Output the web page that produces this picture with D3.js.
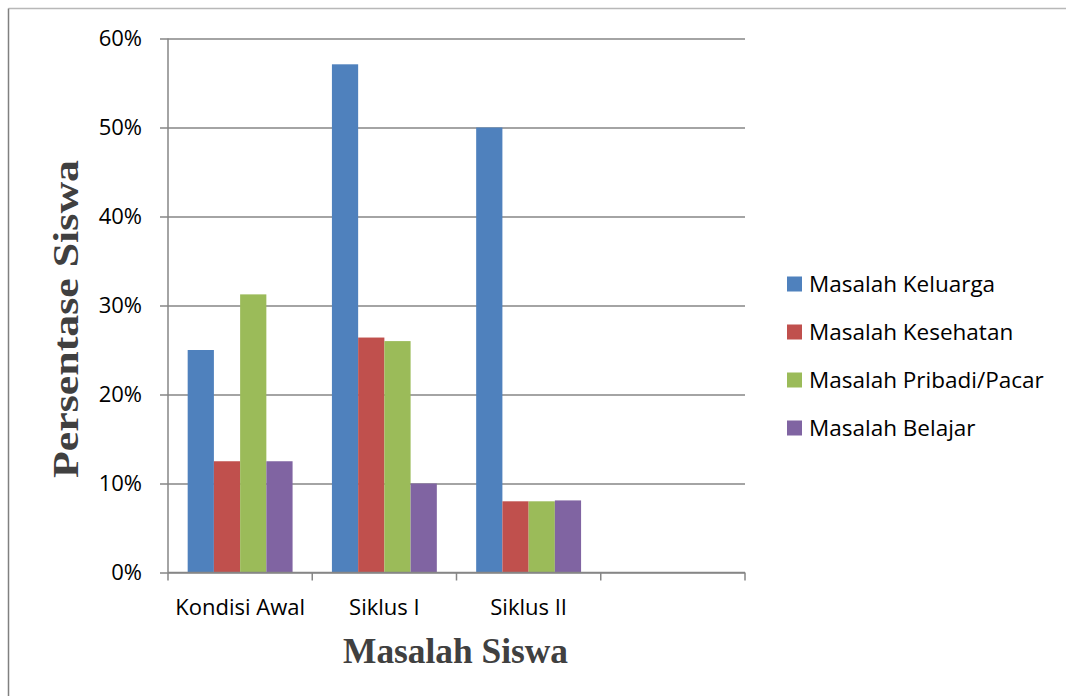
<!DOCTYPE html>
<html>
<head>
<meta charset="utf-8">
<script src="https://cdn.jsdelivr.net/npm/d3@7"></script>
<style>
  html, body { margin: 0; padding: 0; background: #fff; }
  svg { display: block; }
</style>
</head>
<body>
<svg id="chart" width="1066" height="696"></svg>
<script>
const categories = ["Kondisi Awal", "Siklus I", "Siklus II", ""];
const seriesNames = ["Masalah Keluarga", "Masalah Kesehatan", "Masalah Pribadi/Pacar", "Masalah Belajar"];
const keluarga  = [0.25, 0.571, 0.50, null];
const kesehatan = [0.125, 0.264, 0.08, null];
const pribadi   = [0.3125, 0.26, 0.08, null];
const belajar   = [0.125, 0.10, 0.081, null];
const yTicks = [0, 0.1, 0.2, 0.3, 0.4, 0.5, 0.6];
const colors = ["#4F81BD", "#C0504D", "#9BBB59", "#8064A2"];

(function () {
const seriesValues = [keluarga, kesehatan, pribadi, belajar];
const rows = categories.map((c, i) => {
  const r = { category: c };
  seriesNames.forEach((s, j) => { r[s] = seriesValues[j][i]; });
  return r;
});

const svg = d3.select("#chart");
const pLeft = 168, pRight = 745, pTop = 38.5, pBottom = 572.5;
const axisColor = "#868686";
const labelFont = "'Open Sans', 'Noto Sans', sans-serif";
const serif = "'Liberation Serif', 'Times New Roman', serif";

// Frame
svg.append("line").attr("x1", 8.5).attr("x2", 1066).attr("y1", 8.5).attr("y2", 8.5)
  .attr("stroke", "#b8b8b8").attr("stroke-width", 1.5);
svg.append("line").attr("x1", 8.5).attr("x2", 8.5).attr("y1", 8.5).attr("y2", 696)
  .attr("stroke", "#808080").attr("stroke-width", 1.5);

const x0 = d3.scaleBand().domain(categories).range([pLeft, pRight]).paddingInner(0).paddingOuter(0);
const x1 = d3.scaleBand().domain(seriesNames).range([0, x0.bandwidth()]).paddingInner(0).paddingOuter(0.75);
const y = d3.scaleLinear().domain([0, 0.6]).range([pBottom, pTop]);

// Gridlines
const grid = svg.append("g").attr("transform", `translate(${pRight},0)`)
  .call(d3.axisLeft(y).tickValues(yTicks).tickSizeInner(pRight - pLeft + 8).tickSizeOuter(0).tickFormat(""));
grid.select(".domain").remove();
grid.selectAll(".tick line").attr("stroke", axisColor).attr("stroke-width", 1.3);

// Y axis labels
const yAxis = svg.append("g").attr("transform", `translate(${pLeft},0)`)
  .call(d3.axisLeft(y).tickValues(yTicks).tickSize(8).tickPadding(18).tickFormat(d3.format(".0%")));
yAxis.select(".domain").remove();
yAxis.selectAll(".tick line").remove();
yAxis.selectAll("text").attr("font-family", labelFont).attr("font-size", 22).attr("fill", "#000")
  .attr("dy", "0.3em");

// Bars
const groups = svg.append("g").selectAll("g").data(rows).join("g")
  .attr("transform", d => `translate(${x0(d.category)},0)`);
groups.selectAll("rect")
  .data(d => seriesNames.map((s, j) => ({ key: s, value: d[s], color: colors[j] })).filter(e => e.value != null))
  .join("rect")
  .attr("x", d => x1(d.key))
  .attr("width", x1.bandwidth())
  .attr("y", d => y(d.value))
  .attr("height", d => y(0) - y(d.value))
  .attr("fill", d => d.color);

// Axis lines
svg.append("line").attr("x1", pLeft).attr("x2", pLeft).attr("y1", pTop).attr("y2", pBottom)
  .attr("stroke", axisColor).attr("stroke-width", 1.5);
svg.append("line").attr("x1", pLeft).attr("x2", pRight).attr("y1", pBottom).attr("y2", pBottom)
  .attr("stroke", axisColor).attr("stroke-width", 1.5);

// X axis tick marks at category boundaries
const boundaries = d3.range(categories.length + 1).map(i => pLeft + i * x0.step());
svg.append("g").selectAll("line").data(boundaries).join("line")
  .attr("x1", d => d).attr("x2", d => d).attr("y1", pBottom).attr("y2", pBottom + 8)
  .attr("stroke", axisColor).attr("stroke-width", 1.5);

// X axis labels
const xAxis = svg.append("g").attr("transform", `translate(0,${pBottom})`)
  .call(d3.axisBottom(x0).tickSize(0).tickPadding(0));
xAxis.select(".domain").remove();
xAxis.selectAll("text").attr("font-family", labelFont).attr("font-size", 22).attr("fill", "#000")
  .attr("y", 42).attr("dy", null);

// Axis titles
svg.append("text").attr("x", 455.5).attr("y", 663).attr("text-anchor", "middle")
  .attr("font-family", serif).attr("font-weight", "bold")
  .attr("font-size", 35).attr("fill", "#404040")
  .attr("textLength", 225).attr("lengthAdjust", "spacingAndGlyphs").text("Masalah Siswa");
svg.append("text").attr("transform", "translate(78,319) rotate(-90)").attr("text-anchor", "middle")
  .attr("font-family", serif).attr("font-weight", "bold")
  .attr("font-size", 36).attr("fill", "#404040")
  .attr("textLength", 318).attr("lengthAdjust", "spacingAndGlyphs").text("Persentase Siswa");

// Legend
const legend = svg.append("g").selectAll("g").data(seriesNames).join("g")
  .attr("transform", (d, i) => `translate(787,${284 + i * 48})`);
legend.append("rect").attr("x", 0).attr("y", -7.5).attr("width", 15).attr("height", 15)
  .attr("fill", (d, i) => colors[i]);
legend.append("text").attr("x", 22).attr("y", 0).attr("dy", "0.36em")
  .attr("font-family", labelFont).attr("font-size", 22.5).attr("fill", "#000").text(d => d);
})();
</script>
</body>
</html>
